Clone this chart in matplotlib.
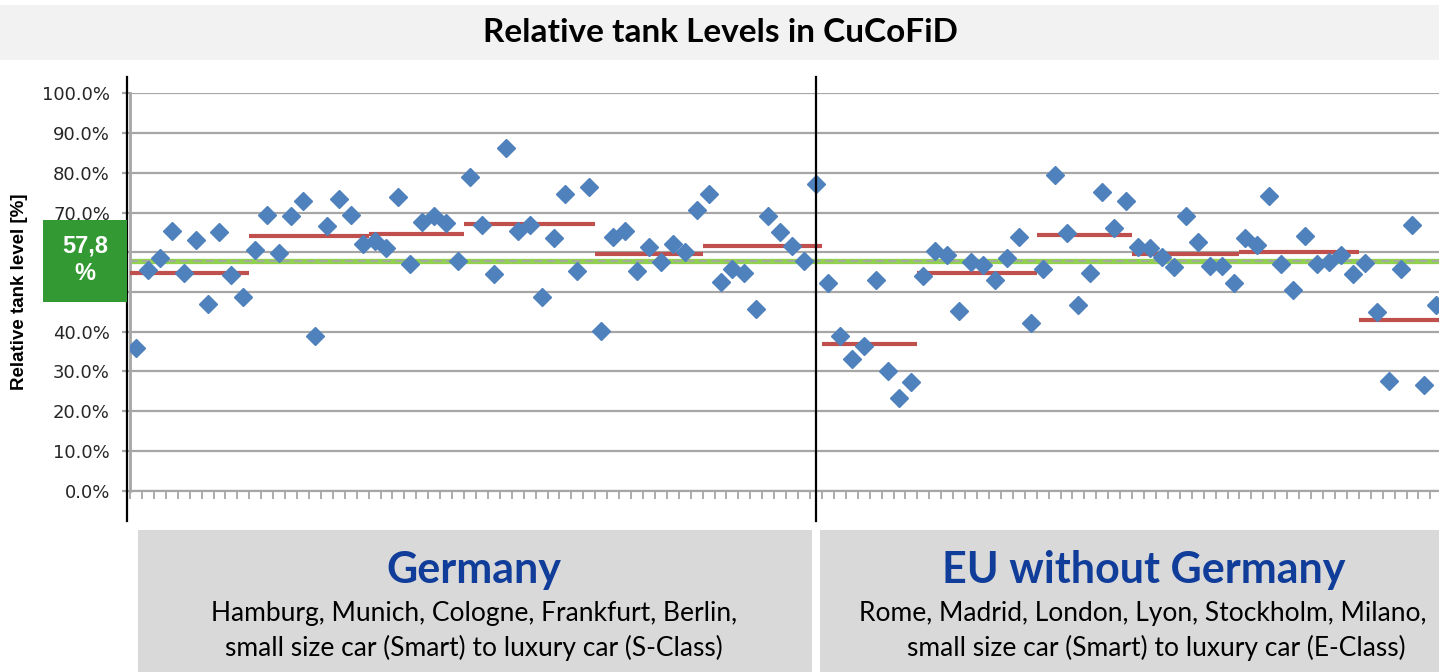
import matplotlib
matplotlib.use("Agg")
import matplotlib.pyplot as plt
import numpy as np
from matplotlib.patches import Rectangle
from matplotlib.lines import Line2D

# Relative tank level per vehicle (in %)
germany = [35.9, 55.5, 58.6, 65.3, 54.8, 63.1, 46.9, 65.0, 54.3, 48.8,
           60.5, 69.3, 59.8, 69.0, 72.9, 39.0, 66.5, 73.4, 69.5, 62.0,
           62.9, 61.1, 74.0, 57.0, 67.6, 69.2, 67.3, 57.75,
           79.0, 66.75, 54.6, 86.25, 65.25, 66.8, 48.75, 63.7, 74.6, 55.3, 76.3,
           40.25, 63.8, 65.25, 55.4, 61.25, 57.6, 62.2, 60.1, 70.7,
           74.6, 52.6, 55.9, 54.8, 45.8, 69.2, 65.2, 61.6, 57.9, 77.1]
eu = [52.3, 39.0, 33.2, 36.5, 52.9, 30.1, 23.3, 27.3,
      54.0, 60.25, 59.2, 45.25, 57.5, 56.7, 53.0, 58.6, 63.75, 42.2,
      55.7, 79.4, 64.8, 46.75, 54.7, 75.2, 66.1, 72.9,
      61.3, 61.1, 58.8, 56.3, 69.25, 62.6, 56.5, 56.5, 52.2,
      63.6, 61.9, 74.25, 57.1, 50.5, 64.0, 57.1, 57.5, 59.2, 54.6,
      57.25, 45.0, 27.6, 55.7, 66.75, 26.5, 46.7, 17.5]

# group averages (first index, last index, mean in %)
group_first = [0, 10, 20, 28, 39, 48, 58, 66, 76, 84, 93, 103]
group_last = [9, 19, 27, 38, 47, 57, 65, 75, 83, 92, 102, 110]
group_mean = [54.8, 64.2, 64.6, 67.0, 59.5, 61.5, 36.9, 54.8, 64.3, 59.5, 60.0, 42.9]

overall_mean = 57.8

yticks = np.arange(0, 1.01, 0.1)
# 50% and 60% labels sit under the green mean box
ytick_labels = ['' if round(v, 1) in (0.5, 0.6) else f'{v:.1%}' for v in yticks]

values = np.array(germany + eu) / 100
idx = np.arange(len(values))
n_germany = len(germany)

W, H = 1439, 672
fig = plt.figure(figsize=(W / 100, H / 100), dpi=100)

# title band
fig.patches.append(Rectangle((0, 1 - 60 / H), 1, 55 / H, transform=fig.transFigure,
                             facecolor='#F2F2F2', edgecolor='none', zorder=0))
fig.text(720 / W, 1 - 33 / H, 'Relative tank Levels in CuCoFiD', ha='center', va='center',
         fontsize=24, fontweight='bold', family='Lato', color='black')

ax = fig.add_axes([130 / W, 1 - 490.7 / H, (W - 130) / W, 397.4 / H])

ax.set_yticks(yticks)
ax.set_yticklabels(ytick_labels)
ax.set_xticks(np.arange(-0.5, len(values) + 0.5, 1))
ax.set_xlim(-0.5, (W - 130) / 11.93 - 0.5)
ax.set_ylim(0, 1)
ax.tick_params(axis='x', length=6, width=1.3, color='#A6A6A6', labelbottom=False)
ax.tick_params(axis='y', length=6, width=1.6, color='#A6A6A6', pad=8.4,
               labelsize=13, labelcolor='#262626')
ax.grid(axis='y', color='#A6A6A6', lw=1.6, zorder=0)
ax.set_axisbelow(True)
for s in ['top', 'right']:
    ax.spines[s].set_visible(False)
ax.spines['bottom'].set_color('#A6A6A6')
ax.spines['bottom'].set_linewidth(1.6)
ax.spines['left'].set_color('#A6A6A6')
ax.spines['left'].set_linewidth(2)

# overall mean line
ax.axhline(overall_mean / 100, color='#92D050', lw=3.8, zorder=2)
ax.axhline(overall_mean / 100, color='#A6A6A6', lw=1.3, zorder=2,
           linestyle=(0, (4.5, 2.5)))

# group means
for a, b, m in zip(group_first, group_last, group_mean):
    ax.plot([a - 0.5, b + 0.5], [m / 100, m / 100], color='#C0504D', lw=3,
            solid_capstyle='butt', zorder=3)

ax.plot(idx, values, linestyle='none', marker='D', ms=8.8, color='#4F81BD',
        markeredgecolor='#4F81BD', zorder=4)

# divider between Germany and EU
ax.plot([n_germany - 1] * 2, [-0.076, 1.041], color='black', lw=1.6,
        transform=ax.get_xaxis_transform(), clip_on=False, zorder=5)
fig.add_artist(Line2D([127.5 / W] * 2, [1 - 77 / H, 1 - 521 / H], color='black', lw=1.6))

# mean value box
fig.patches.append(Rectangle((43 / W, 1 - 302 / H), 84 / W, 82 / H, transform=fig.transFigure,
                             facecolor='#339933', edgecolor='none', zorder=6))
fig.text(85 / W, 1 - 260 / H, '57,8\n%', ha='center', va='center', color='white',
         fontsize=17, fontweight='bold', family='Liberation Sans', linespacing=1.25,
         zorder=7)

fig.text(20 / W, 1 - 292 / H, 'Relative tank level [%]', rotation=90, ha='center', va='center',
         fontsize=13.5, fontweight='bold', family='Liberation Sans', color='black')

# region boxes
fig.patches.append(Rectangle((138 / W, 0), 674 / W, 142 / H, transform=fig.transFigure,
                             facecolor='#D9D9D9', edgecolor='none', zorder=0))
fig.patches.append(Rectangle((820 / W, 0), (W - 820) / W, 142 / H, transform=fig.transFigure,
                             facecolor='#D9D9D9', edgecolor='none', zorder=0))

fig.text(474 / W, 1 - 570 / H, 'Germany', ha='center', va='center', fontsize=31,
         fontweight='bold', family='Lato', color='#103C9A')
fig.text(474 / W, 1 - 613 / H, 'Hamburg, Munich, Cologne, Frankfurt, Berlin,', ha='center',
         va='center', fontsize=19, family='Lato', color='black')
fig.text(474 / W, 1 - 648 / H, 'small size car (Smart) to luxury car (S-Class)', ha='center',
         va='center', fontsize=19, family='Lato', color='black')

fig.text(1144 / W, 1 - 570 / H, 'EU without Germany', ha='center', va='center', fontsize=31,
         fontweight='bold', family='Lato', color='#103C9A')
fig.text(1143 / W, 1 - 613 / H, 'Rome, Madrid, London, Lyon, Stockholm, Milano,', ha='center',
         va='center', fontsize=19, family='Lato', color='black')
fig.text(1156 / W, 1 - 648 / H, 'small size car (Smart) to luxury car (E-Class)', ha='center',
         va='center', fontsize=19, family='Lato', color='black')

fig.savefig('out.png', dpi=100)
